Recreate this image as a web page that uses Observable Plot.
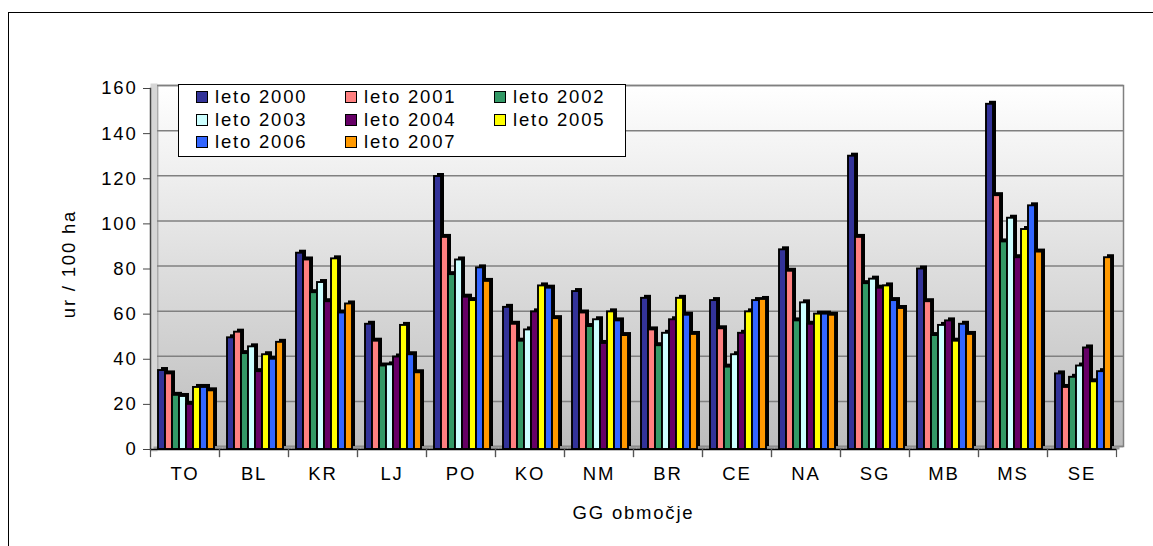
<!DOCTYPE html>
<html>
<head>
<meta charset="utf-8">
<script src="https://cdn.jsdelivr.net/npm/d3@7"></script>
<script src="https://cdn.jsdelivr.net/npm/@observablehq/plot@0.6"></script>
<style>
  html, body { margin: 0; padding: 0; background: #fff; }
  #wrap { position: relative; width: 1153px; height: 546px; overflow: hidden; font-family: "Liberation Sans", Arial, sans-serif; }
  #border { position: absolute; left: 8px; top: 12px; width: 1300px; height: 700px; border: 1px solid #000; box-sizing: border-box; }
  #chart { position: absolute; left: 0; top: 0; }
  #legend { position: absolute; left: 178px; top: 84px; width: 448px; height: 73px; box-sizing: border-box;
    border: 1px solid #000; background: #fff; display: grid; grid-template-columns: repeat(3, 149px);
    grid-auto-rows: 22.5px; padding: 1px 0 0 17px; font-size: 18.5px; letter-spacing: 1.8px; color: #000; }
  #legend .item { display: flex; align-items: center; white-space: nowrap; }
  #legend .sw { width: 10px; height: 10px; border: 1.8px solid #000; margin-right: 7px; flex: none; }
</style>
</head>
<body>
<div id="wrap">
  <div id="border"></div>
  <div id="chart"></div>
  <div id="legend"></div>
</div>
<script>
// ---- data ----
const regions = ["TO", "BL", "KR", "LJ", "PO", "KO", "NM", "BR", "CE", "NA", "SG", "MB", "MS", "SE"];
const years = ["leto 2000", "leto 2001", "leto 2002", "leto 2003", "leto 2004", "leto 2005", "leto 2006", "leto 2007"];
const colors = ["#333399", "#FF8080", "#339966", "#CCFFFF", "#660066", "#FFFF00", "#3366FF", "#FF9900"];

const v2000 = [35, 49.5, 87, 55.5, 121, 63, 70, 67, 66, 88.5, 130, 80, 153, 33.5];
const v2001 = [33.5, 52, 84, 48, 94, 55.5, 60.5, 53, 53.5, 79, 94, 65.5, 112.5, 27.5];
const v2002 = [24, 42.5, 69.5, 37, 77.5, 48, 54.5, 46, 36.5, 57, 73.5, 50.5, 92, 32];
const v2003 = [23.5, 45.5, 74, 37.5, 84, 53, 57.5, 51.5, 42, 65, 75.5, 55, 102.5, 37];
const v2004 = [20, 34.5, 65.5, 41, 67.5, 61, 47, 57.5, 51.5, 55.5, 71.5, 57, 85, 45];
const v2005 = [27.5, 42, 84.5, 55, 66, 72.5, 61, 67, 61, 60, 72.5, 48, 97.5, 30];
const v2006 = [27.5, 40, 60.5, 42, 80.5, 71.5, 57, 59.5, 66, 60, 66, 55.5, 108, 34.5];
const v2007 = [26, 47.5, 64.5, 34, 74.5, 58, 50.5, 51, 66.5, 59.5, 62.5, 51, 87.5, 85];
const series = [v2000, v2001, v2002, v2003, v2004, v2005, v2006, v2007];

const yTicks = [0, 20, 40, 60, 80, 100, 120, 140, 160];
const xTitle = "GG območje";
const yTitle = "ur / 100 ha";

const rows = years.flatMap((yr, i) => regions.map((r, j) => ({region: r, year: yr, value: series[i][j]})));

// ---- layout ----
const W = 1153, H = 546, mT = 88, mB = 97, mL = 150, mR = 37;
const innerH = H - mT - mB;

const plot = Plot.plot({
  width: W, height: H,
  marginTop: mT, marginBottom: mB, marginLeft: mL, marginRight: mR,
  style: {fontFamily: '"Liberation Sans", Arial, sans-serif', fontSize: "18.5px", letterSpacing: "1.8px",
          color: "#000", background: "transparent", overflow: "visible"},
  fx: {domain: regions, padding: 0, axis: null, label: null},
  x: {domain: years, paddingInner: 0, paddingOuter: 0.75, align: 0.6, axis: null},
  y: {domain: [0, 160], axis: null},
  color: {domain: years, range: colors},
  marks: [
    // back wall
    Plot.frame({facet: "super", dx: 7, dy: -3, fill: "url(#wallGrad)", stroke: "#808080", strokeWidth: 1.5}),
    // left side wall
    Plot.frame({facet: "super", anchor: "left", dx: 3.5, dy: -1.5, stroke: "#d6d6d6", strokeWidth: 7}),
    // gridlines on back wall (per facet, contiguous)
    Plot.ruleY(yTicks, {dx: 7, dy: -3, stroke: "#808080", strokeWidth: 1.5}),
    // floor
    Plot.ruleY([0], {dx: 3.5, dy: -1.5, stroke: "#9a9a9a", strokeWidth: 3}),
    // y axis line
    Plot.frame({facet: "super", anchor: "left", stroke: "#444", strokeWidth: 1.5}),
    // bar depth (3D side/top)
    Plot.barY(rows, {fx: "region", x: "year", y: "value", fill: "#000", dx: 3, dy: -3}),
    // bar front faces
    Plot.barY(rows, {fx: "region", x: "year", y: "value", fill: "year", stroke: "#000", strokeWidth: 1.9}),
    // baseline
    Plot.ruleY([0], {stroke: "#000", strokeWidth: 1.5}),
    // category boundary ticks
    Plot.frame({anchor: "left", insetTop: innerH, insetBottom: -7, stroke: "#555", strokeWidth: 1.2}),
    Plot.frame({anchor: "right", insetTop: innerH, insetBottom: -7, stroke: "#555", strokeWidth: 1.2}),
    // axes
    Plot.axisY(yTicks, {anchor: "left", tickSize: 7, tickPadding: 6, label: null, stroke: "#444"}),
    Plot.axisFx({anchor: "bottom", tickSize: 0, tickPadding: 17, label: null}),
    // titles
    Plot.text([xTitle], {facet: "super", frameAnchor: "bottom", textAnchor: "middle", lineAnchor: "middle", dy: 64, fontSize: 18.5}),
    Plot.text([yTitle], {facet: "super", frameAnchor: "left", textAnchor: "middle", lineAnchor: "middle", rotate: -90, dx: -81, dy: -5, fontSize: 18.5})
  ]
});

// gradient for the back wall
const svg = d3.select(plot);
const defs = svg.insert("defs", ":first-child");
const grad = defs.append("linearGradient").attr("id", "wallGrad")
  .attr("x1", 0).attr("y1", 0).attr("x2", 0).attr("y2", 1);
grad.append("stop").attr("offset", "0%").attr("stop-color", "#ffffff");
grad.append("stop").attr("offset", "100%").attr("stop-color", "#bdbdbd");

document.getElementById("chart").appendChild(plot);

// legend (row-major, 3 columns)
const legend = d3.select("#legend");
const items = legend.selectAll(".item").data(years).join("div").attr("class", "item");
items.append("div").attr("class", "sw").style("background", (d, i) => colors[i]);
items.append("span").text(d => d);
</script>
</body>
</html>
